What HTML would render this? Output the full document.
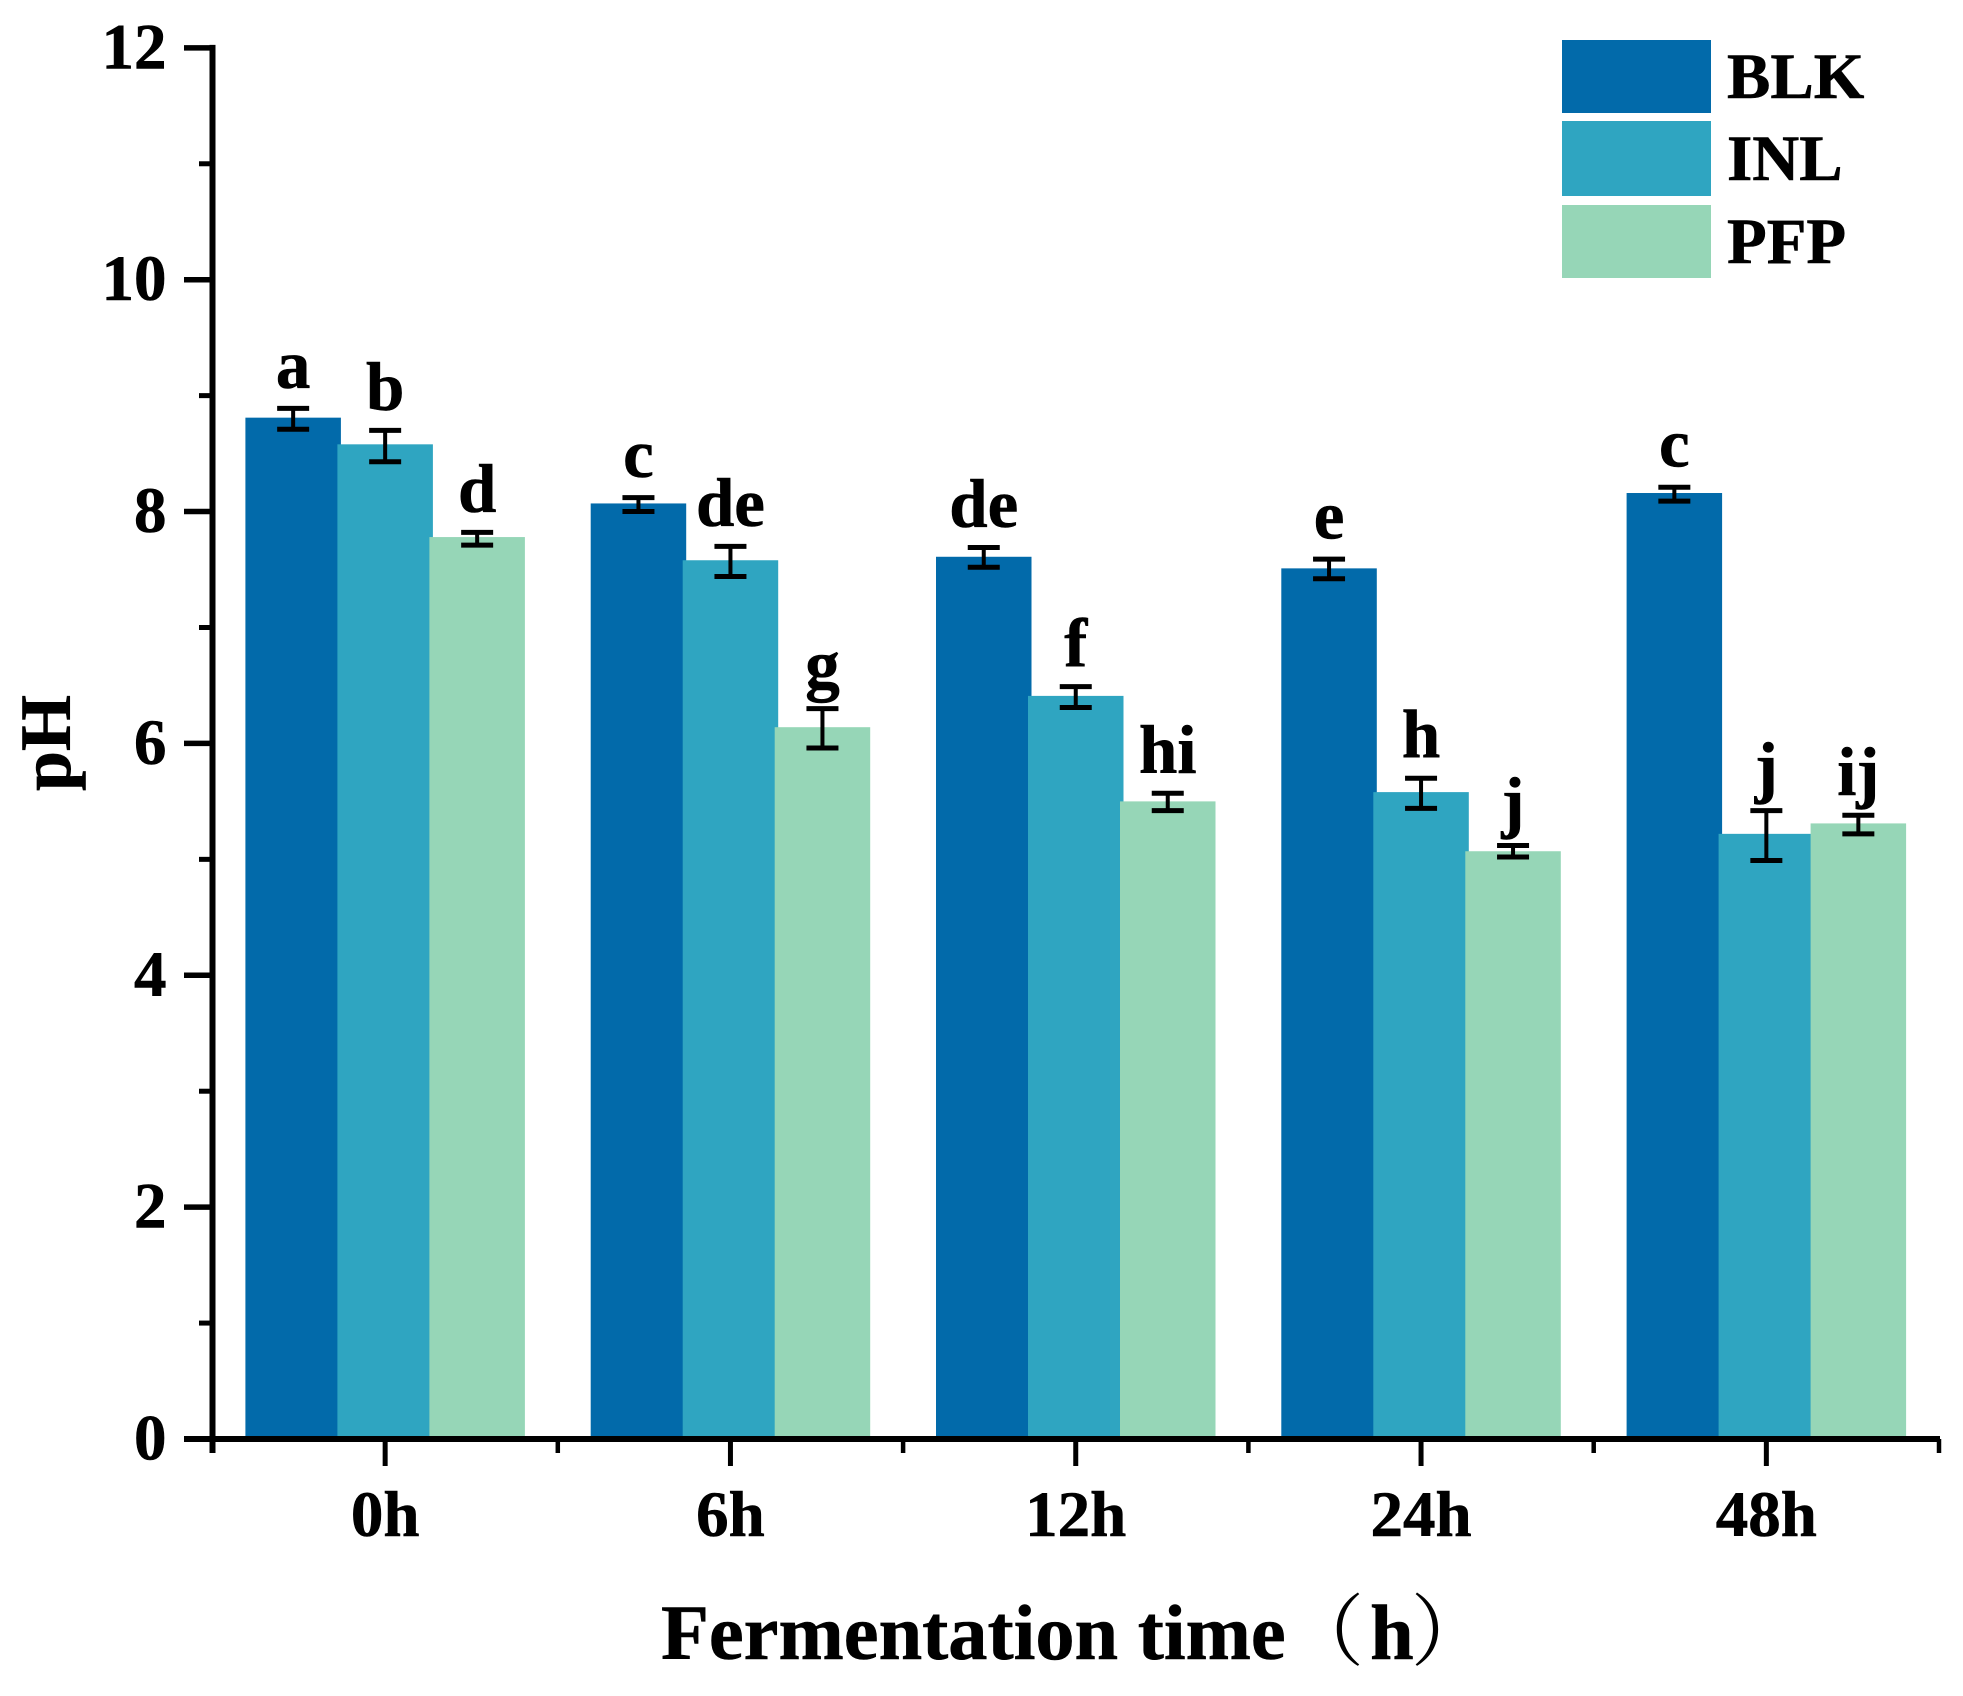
<!DOCTYPE html>
<html lang="en">
<head>
<meta charset="utf-8">
<title>pH during fermentation</title>
<style>
html,body{margin:0;padding:0;background:#fff;width:1963px;height:1696px;overflow:hidden}
svg{display:block}
text{font-family:"Liberation Serif","Noto Serif CJK SC",serif;font-weight:bold;fill:#000;stroke:#000;stroke-width:0.6px}
.paren{font-weight:normal;stroke-width:0}
</style>
</head>
<body>
<svg id="chart" xmlns="http://www.w3.org/2000/svg" width="1963" height="1696" viewBox="0 0 1963 1696">
  <rect x="0" y="0" width="1963" height="1696" fill="#ffffff"/>
  <g id="bars"></g>
  <g id="errors"></g>
  <g id="letters"></g>
  <g id="axes"></g>
  <text x="661" y="1659" font-size="78.4">Fermentation time<tspan class="paren">（</tspan><tspan dx="6">h</tspan><tspan class="paren" dx="-3">）</tspan></text>
  <text transform="translate(70,791) rotate(-90)" font-size="72">pH</text>
  <g>
    <rect x="1562" y="40" width="149" height="73" fill="#026aaa"/>
    <text x="1727" y="98" font-size="65">BLK</text>
    <rect x="1562" y="121" width="149" height="75" fill="#2fa5c1"/>
    <text x="1727" y="180" font-size="65">INL</text>
    <rect x="1562" y="205" width="149" height="73" fill="#96d6b7"/>
    <text x="1727" y="263" font-size="65">PFP</text>
  </g>
</svg>
<script>
const categories = ['0h', '6h', '12h', '24h', '48h'];
const seriesNames = ['BLK', 'INL', 'PFP'];
const seriesColors = ['#026aaa', '#2fa5c1', '#96d6b7'];
const blkValues = [8.81, 8.07, 7.61, 7.51, 8.16];
const inlValues = [8.58, 7.58, 6.41, 5.58, 5.22];
const pfpValues = [7.78, 6.14, 5.50, 5.07, 5.31];
const blkErrHigh = [8.89, 8.12, 7.69, 7.59, 8.21];
const blkErrLow = [8.71, 8.00, 7.52, 7.42, 8.09];
const inlErrHigh = [8.70, 7.70, 6.49, 5.70, 5.42];
const inlErrLow = [8.43, 7.44, 6.31, 5.44, 4.99];
const pfpErrHigh = [7.82, 6.30, 5.57, 5.12, 5.38];
const pfpErrLow = [7.71, 5.96, 5.42, 5.02, 5.22];
const blkLetters = ['a', 'c', 'de', 'e', 'c'];
const inlLetters = ['b', 'de', 'f', 'h', 'j'];
const pfpLetters = ['d', 'g', 'hi', 'j', 'ij'];
const yMajorTicks = [0, 2, 4, 6, 8, 10, 12];
const yMinorTicks = [1, 3, 5, 7, 9, 11];

const SVGNS = 'http://www.w3.org/2000/svg';
const plot = { x0: 212.5, step: 345.3, y0: 1439, unit: 115.93 };
const slotStep = 92;
const barWidth = 95.5;

function yScale(v) { return plot.y0 - v * plot.unit; }
function xCenter(i) { return plot.x0 + plot.step * (i + 0.5); }
function xSlot(i, s) { return xCenter(i) + (s - 1) * slotStep; }

function line(parent, x1, y1, x2, y2, w) {
  const el = document.createElementNS(SVGNS, 'line');
  el.setAttribute('x1', x1);
  el.setAttribute('y1', y1);
  el.setAttribute('x2', x2);
  el.setAttribute('y2', y2);
  el.setAttribute('stroke', '#000');
  el.setAttribute('stroke-width', w);
  parent.appendChild(el);
  return el;
}
function label(parent, x, y, size, anchor, str) {
  const el = document.createElementNS(SVGNS, 'text');
  el.setAttribute('x', x);
  el.setAttribute('y', y);
  el.setAttribute('font-size', size);
  el.setAttribute('text-anchor', anchor);
  el.textContent = str;
  parent.appendChild(el);
  return el;
}

const barsG = document.getElementById('bars');
const errG = document.getElementById('errors');
const lettersG = document.getElementById('letters');
const axesG = document.getElementById('axes');

const allValues = [blkValues, inlValues, pfpValues];
const allHigh = [blkErrHigh, inlErrHigh, pfpErrHigh];
const allLow = [blkErrLow, inlErrLow, pfpErrLow];
const allLetters = [blkLetters, inlLetters, pfpLetters];

allValues.forEach(function (vals, s) {
  vals.forEach(function (v, i) {
    const r = document.createElementNS(SVGNS, 'rect');
    r.setAttribute('x', xSlot(i, s) - barWidth / 2);
    r.setAttribute('y', yScale(v));
    r.setAttribute('width', barWidth);
    r.setAttribute('height', plot.y0 - yScale(v));
    r.setAttribute('fill', seriesColors[s]);
    
    
    barsG.appendChild(r);
  });
});

allHigh.forEach(function (highs, s) {
  highs.forEach(function (hi, i) {
    const lo = allLow[s][i];
    const x = xSlot(i, s);
    const g = document.createElementNS(SVGNS, 'g');
    
    
    line(g, x, yScale(hi), x, yScale(lo), 4);
    line(g, x - 16, yScale(hi), x + 16, yScale(hi), 5);
    line(g, x - 16, yScale(lo), x + 16, yScale(lo), 5);
    errG.appendChild(g);

    const t = label(lettersG, x, yScale(hi) - 20.5, 69, 'middle', allLetters[s][i]);
    
    
  });
});

/* axes */
const xAxisLine = line(axesG, 184, plot.y0, 1940, plot.y0, 6);


const yAxisLine = line(axesG, plot.x0, yScale(12) - 3, plot.x0, 1453, 6);



yMajorTicks.forEach(function (v) {
  const tk = line(axesG, 184, yScale(v), plot.x0, yScale(v), 5.5);
  
  
  const t = label(axesG, 166.5, yScale(v) + 20.5, 65, 'end', String(v));
  
  
});
yMinorTicks.forEach(function (v) {
  const tk = line(axesG, 199, yScale(v), plot.x0, yScale(v), 5);
  
  
});
categories.forEach(function (c, i) {
  const tk = line(axesG, xCenter(i), plot.y0, xCenter(i), 1466, 5);
  
  
  const t = label(axesG, xCenter(i), 1536, 65, 'middle', c);
  
  
  const minor = line(axesG, xCenter(i) + plot.step / 2, plot.y0, xCenter(i) + plot.step / 2, 1453, 4.5);
  
  
});
</script>
</body>
</html>
